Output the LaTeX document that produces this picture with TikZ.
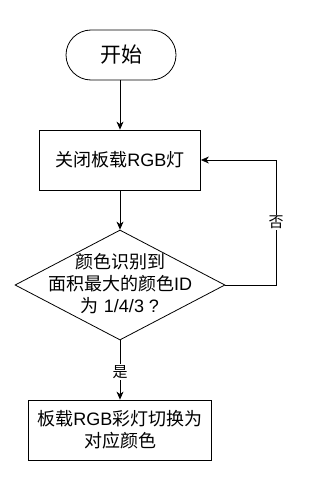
\documentclass[tikz,border=0pt]{standalone}
\usepackage{fontspec}
\setmainfont{Liberation Sans}
\newfontfamily\cjk{Noto Sans CJK SC}
\usetikzlibrary{shapes.geometric,arrows.meta}
\begin{document}
\begin{tikzpicture}[x=1pt,y=-1pt,
  line/.style={draw=black,line width=0.8pt},
  arr/.style={line,-{Stealth[length=8pt,width=7pt,inset=2.5pt]}},
  procbox/.style={line,rectangle,inner sep=0pt,align=center,font=\fontsize{18}{22}\selectfont},
  txt/.style={inner sep=0pt,align=center,font=\fontsize{18}{22}\selectfont},
  lbl/.style={fill=white,inner sep=1.5pt,font=\fontsize{15}{18}\selectfont\cjk}]
\useasboundingbox[fill=white] (0,0) rectangle (327,500);
\node[line,rectangle,rounded corners=25pt,minimum width=110pt,minimum height=50pt,inner sep=0pt,font=\fontsize{21}{24}\selectfont\cjk] (start) at (121,55) {开始};
\node[procbox,minimum width=161pt,minimum height=60pt] (off) at (120,160) {{\cjk 关闭板载}RGB{\cjk 灯}};
\node[line,diamond,minimum width=210pt,minimum height=110pt,inner sep=0pt] (dec) at (120,285) {};
\node[txt] (dectext) at (120,284) {{\cjk 颜色识别到}\\{\cjk 面积最大的颜色}ID\\{\cjk 为} 1/4/3 ?};
\node[procbox,minimum width=183pt,minimum height=60pt] (set) at (120,430) {{\cjk 板载}RGB{\cjk 彩灯切换为}\\{\cjk 对应颜色}};
\coordinate (c1) at (276,285);
\coordinate (c2) at (276,160);
\draw[arr] (start.south -| off.north) -- (off.north);
\draw[arr] (off.south) -- (dec.north);
\draw[arr] (dec.south) -- node[lbl,pos=0.53] (yes) {是} (set.north);
\draw[arr] (dec.east) -- (c1) -- node[lbl,pos=0.5] (no) {否} (c2) -- (off.east);
\end{tikzpicture}
\end{document}
